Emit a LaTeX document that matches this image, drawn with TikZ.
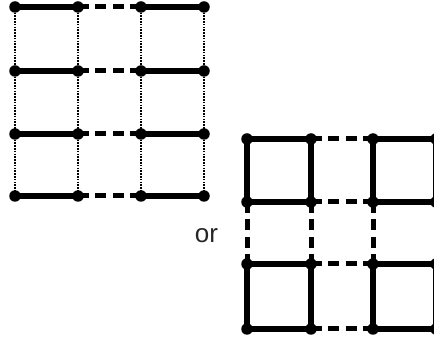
\documentclass[tikz,border=0pt]{standalone}
\usepackage{fontspec}
\setmainfont{Liberation Sans}
\usetikzlibrary{positioning}

\begin{document}
\begin{tikzpicture}[
    x=1pt, y=1pt,
    dot/.style={circle, fill=black, inner sep=0pt, minimum size=11.5pt},
    bond/.style={line width=5.8pt},
    gapbond/.style={line width=5pt, dash pattern=on 11pt off 6.4pt},
    rung/.style={line width=1.2pt, dash pattern=on 1.6pt off 1.2pt},
    word/.style={font=\fontsize{26}{28}\selectfont, text=black!85},
  ]
  \useasboundingbox (0,0) rectangle (434,340);

  % Left ladder: dots
  \foreach \c/\x in {1/15,2/78,3/141,4/204}
    \foreach \r/\y in {1/333,2/269,3/206,4/144}
      \node[dot] (l-\r-\c) at (\x,\y) {};

  % Left ladder: rungs (dotted verticals)
  \foreach \c in {1,...,4}
    \foreach \r/\s in {1/2,2/3,3/4}
      \draw[rung] (l-\r-\c.center) -- (l-\s-\c.center);

  % Left ladder: strong and weak bonds
  \foreach \r in {1,...,4} {
    \draw[bond] (l-\r-1.center) -- (l-\r-2.center);
    \draw[bond] (l-\r-3.center) -- (l-\r-4.center);
    \draw[gapbond] (l-\r-2.center) -- (l-\r-3.center);
  }

  % Right lattice: dots
  \foreach \c/\x in {1/247,2/311,3/373,4/436}
    \foreach \r/\y in {1/201,2/138,3/76,4/11}
      \node[dot] (p-\r-\c) at (\x,\y) {};

  % Right lattice: plaquettes
  \foreach \r/\s in {1/2,3/4}
    \foreach \c/\d in {1/2,3/4}
      \draw[bond, line join=miter] (p-\r-\c.center) -- (p-\r-\d.center)
        -- (p-\s-\d.center) -- (p-\s-\c.center) -- cycle;

  % Right lattice: weak links between plaquettes
  \foreach \r in {1,...,4}
    \draw[gapbond] (p-\r-2.center) -- (p-\r-3.center);
  \foreach \c in {1,...,4}
    \draw[gapbond] (p-2-\c.center) -- (p-3-\c.center);

  % Label
  \node[word] (or) at (206.5,104) {or};

\end{tikzpicture}
\end{document}
